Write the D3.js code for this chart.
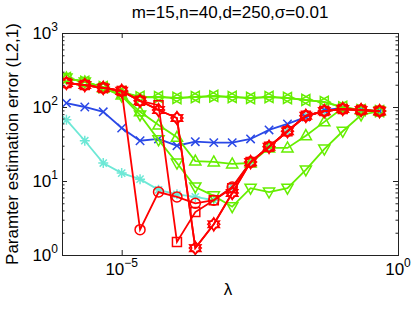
<!DOCTYPE html>
<html>
<head>
<meta charset="utf-8">
<script src="https://cdn.jsdelivr.net/npm/d3@7"></script>
<style>
  body { margin: 0; background: #fff; }
  text { font-family: "Liberation Sans", Arial, sans-serif; fill: #000; }
</style>
</head>
<body>
<svg id="chart" width="415" height="312"></svg>
<script>
// lambda values (x axis)
var lambdas = [1e-6, 2.15e-6, 4.64e-6, 1e-5, 2.15e-5, 4.64e-5, 1e-4, 2.15e-4, 4.64e-4,
               1e-3, 2.15e-3, 4.64e-3, 1e-2, 2.15e-2, 4.64e-2, 0.1, 0.215, 0.464];

// error values, one array per method
var cyanStar    = [67, 35, 17.5, 12.8, 10.6, 7.6, 6.6, 6.1, 5.5, 8.3, 18, 29, 47, 76, 88, 94, 91, 88];
var blueX       = [113, 100, 86, 52, 35, 37, 30, 34, 33, 33, 37, 49, 59, 73, 91, 97, 91, 88];
var greenLeft   = [246, 218, 186, 160, 137, 137, 132, 137, 141, 137, 132, 137, 132, 124, 117, 100, 91, 88];
var greenRight  = [246, 218, 186, 158, 135, 136, 133, 136, 139, 136, 133, 136, 133, 125, 116, 99, 91, 88];
var greenUp     = [246, 218, 181, 145, 86, 57, 39, 18.6, 18.1, 17.0, 17.5, 28, 28, 41, 63, 97, 91, 88];
var greenDown   = [246, 218, 181, 141, 78, 36, 17.5, 8.3, 6.3, 4.5, 8.0, 7.1, 8.0, 14.1, 27, 47, 78, 88];
var redCircle   = [211, 198, 181, 165, 2.2, 7.1, 6.1, 5.0, 5.5, 8.3, 18, 29, 47, 76, 88, 94, 91, 88];
var redSquare   = [211, 198, 181, 165, 121, 106, 1.5, 3.8, 5.5, 8.0, 18, 29, 47, 76, 88, 94, 91, 88];
var redDiamond  = [211, 198, 181, 165, 121, 91, 71, 1.24, 2.6, 6.9, 18, 29, 47, 76, 88, 94, 91, 88];
var redHexagram = [211, 198, 181, 165, 121, 91, 71, 1.24, 2.6, 6.9, 18, 29, 47, 76, 88, 94, 91, 88];

var xTicks = [1e-5, 1];
var yTicks = [1, 10, 100, 1000];

var series = [
  { values: cyanStar,    color: "#6de8d6", marker: "*" },
  { values: blueX,       color: "#2a48e6", marker: "x" },
  { values: greenLeft,   color: "#66ee00", marker: "<" },
  { values: greenRight,  color: "#66ee00", marker: ">" },
  { values: greenUp,     color: "#66ee00", marker: "^" },
  { values: greenDown,   color: "#66ee00", marker: "v" },
  { values: redCircle,   color: "#ff0000", marker: "o" },
  { values: redSquare,   color: "#ff0000", marker: "s" },
  { values: redDiamond,  color: "#ff0000", marker: "d" },
  { values: redHexagram, color: "#ff0000", marker: "h" }
];

// plot box in pixels
var pL = 62, pR = 398, pT = 33, pB = 255;

var svg = d3.select("#chart");

var x = d3.scaleLog().domain([Math.pow(10, -6.08), 1]).range([pL, pR]);
var y = d3.scaleLog().domain([1, 1000]).range([pB, pT]);

// six pointed star
function hexagram(ro, ri) {
  var pts = [];
  for (var k = 0; k < 12; k++) {
    var a = -Math.PI / 2 + k * Math.PI / 6;
    var r = k % 2 ? ri : ro;
    pts.push([r * Math.cos(a), r * Math.sin(a)]);
  }
  return "M" + pts.map(function (p) { return p[0].toFixed(2) + "," + p[1].toFixed(2); }).join("L") + "Z";
}

// marker shapes, centred on 0,0
function markerPath(m) {
  switch (m) {
    case "o": return "M5,0A5,5 0 1,1 -5,0A5,5 0 1,1 5,0Z";
    case "s": return "M-4.5,-4.5H4.5V4.5H-4.5Z";
    case "d": return "M0,-6L6,0L0,6L-6,0Z";
    case "h": return hexagram(6.5, 3.6);
    case "^": return "M0,-6L5.6,4L-5.6,4Z";
    case "v": return "M0,6L5.6,-4L-5.6,-4Z";
    case "<": return "M-6,0L4,-5.6L4,5.6Z";
    case ">": return "M6,0L-4,-5.6L-4,5.6Z";
    case "x": return "M-4.2,-4.2L4.2,4.2M-4.2,4.2L4.2,-4.2";
    case "*": return "M-5,0H5M0,-5V5M-3.6,-3.6L3.6,3.6M-3.6,3.6L3.6,-3.6";
  }
}

svg.append("clipPath").attr("id", "plotclip")
  .append("rect").attr("x", pL).attr("y", pT)
  .attr("width", pR - pL).attr("height", pB - pT);

var plot = svg.append("g").attr("clip-path", "url(#plotclip)");

var line = d3.line()
  .x(function (d, i) { return x(lambdas[i]); })
  .y(function (d) { return y(d); });

series.forEach(function (s) {
  var g = plot.append("g");
  g.append("path")
    .attr("d", line(s.values))
    .attr("fill", "none")
    .attr("stroke", s.color)
    .attr("stroke-width", 1.8);
  g.selectAll("path.mk")
    .data(s.values)
    .enter()
    .append("path")
    .attr("class", "mk")
    .attr("transform", function (d, i) { return "translate(" + x(lambdas[i]) + "," + y(d) + ")"; })
    .attr("d", markerPath(s.marker))
    .attr("fill", "none")
    .attr("stroke", s.color)
    .attr("stroke-width", 1.5);
});

// minor ticks on the y axis
var yMinor = [];
[1, 10, 100].forEach(function (p) {
  for (var k = 2; k <= 9; k++) yMinor.push(p * k);
});

// axes: ticks point inward, labels drawn by hand
svg.append("g").attr("transform", "translate(0," + pB + ")")
  .call(d3.axisBottom(x).tickValues(xTicks).tickSize(-5).tickFormat(""));
svg.append("g").attr("transform", "translate(0," + pT + ")")
  .call(d3.axisTop(x).tickValues(xTicks).tickSize(-5).tickFormat(""));
svg.append("g").attr("transform", "translate(" + pL + ",0)")
  .call(d3.axisLeft(y).tickValues(yTicks).tickSize(-5).tickFormat(""));
svg.append("g").attr("transform", "translate(" + pR + ",0)")
  .call(d3.axisRight(y).tickValues(yTicks).tickSize(-5).tickFormat(""));
svg.append("g").attr("transform", "translate(" + pL + ",0)")
  .call(d3.axisLeft(y).tickValues(yMinor).tickSize(-2.5).tickFormat(""));
svg.append("g").attr("transform", "translate(" + pR + ",0)")
  .call(d3.axisRight(y).tickValues(yMinor).tickSize(-2.5).tickFormat(""));

svg.selectAll(".domain").attr("stroke", "#222").attr("stroke-width", 1);
svg.selectAll(".tick line").attr("stroke", "#222");

// tick labels with superscript exponents
svg.selectAll("text.xt")
  .data(xTicks)
  .enter()
  .append("text")
  .attr("class", "xt")
  .attr("x", function (d) { return x(d); })
  .attr("y", pB + 20)
  .attr("text-anchor", "middle")
  .style("font-size", "17px")
  .each(function (d) {
    var t = d3.select(this);
    t.append("tspan").text("10");
    t.append("tspan").attr("dy", -8).style("font-size", "12px")
      .text(String(Math.round(Math.log10(d))).replace("-", "\u2212"));
  });

svg.selectAll("text.yt")
  .data(yTicks)
  .enter()
  .append("text")
  .attr("class", "yt")
  .attr("x", pL - 4)
  .attr("y", function (d) { return y(d) + 5.5; })
  .attr("text-anchor", "end")
  .style("font-size", "17px")
  .each(function (d) {
    var t = d3.select(this);
    t.append("tspan").text("10");
    t.append("tspan").attr("dy", -8).style("font-size", "12px")
      .text(String(Math.round(Math.log10(d))));
  });

// title and axis labels
svg.append("text")
  .attr("x", (pL + pR) / 2).attr("y", 18)
  .attr("text-anchor", "middle")
  .style("font-size", "17px")
  .text("m=15,n=40,d=250,\u03c3=0.01");

svg.append("text")
  .attr("transform", "translate(18," + (pT + pB) / 2 + ") rotate(-90)")
  .attr("text-anchor", "middle")
  .style("font-size", "17px")
  .text("Paramter estimation error (L2,1)");

svg.append("text")
  .attr("x", 228).attr("y", 295)
  .attr("text-anchor", "middle")
  .style("font-size", "17px")
  .text("\u03bb");
</script>
</body>
</html>
